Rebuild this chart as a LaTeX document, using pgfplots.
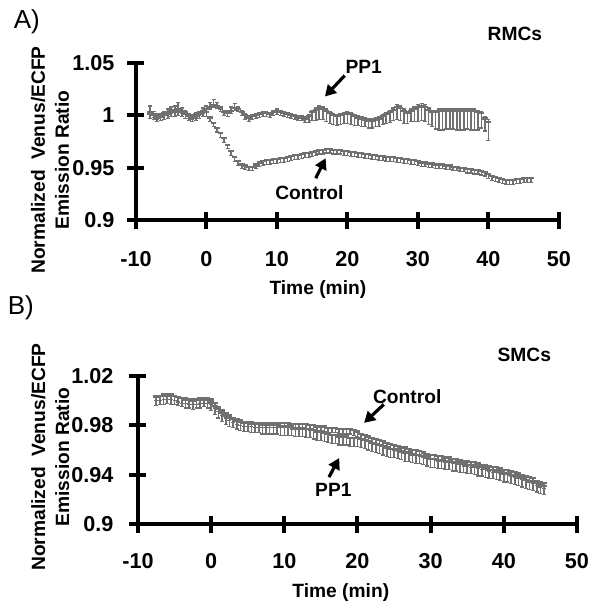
\documentclass[border=0pt]{standalone}
\usepackage{fontspec}
\setmainfont{Liberation Sans}
\usepackage{pgfplots}
\usepackage{pgfplotstable}
\pgfplotsset{compat=1.18}
\usetikzlibrary{arrows.meta}
\definecolor{dgray}{RGB}{112,112,112}

% panel A: PP1 (p, errors pe/pm) and Control (c)
\pgfplotstableread{
t p pe pm c
-8 1.003 .006 .002 1.001
-7.5 1.001 .003 .003 1.000
-7 0.999 .003 .003 0.998
-6.5 1.000 .002 .002 0.999
-6 1.002 .002 .002 1.000
-5.5 1.003 .003 .002 1.001
-5 1.004 .004 .002 1.003
-4.5 1.005 .004 .002 1.003
-4 1.006 .006 .002 1.004
-3.5 1.004 .003 .002 1.003
-3 1.003 .002 .002 1.001
-2.5 1.000 .002 .003 0.999
-2 0.999 .002 .003 0.998
-1.5 1.001 .002 .003 0.999
-1 1.002 .002 .002 1.001
-0.5 1.004 .003 .002 1.003
0 1.006 .003 .002 1.003
0.5 1.008 .004 .002 0.998
1 1.010 .005 .002 0.993
1.5 1.009 .003 .002 0.988
2 1.006 .002 .002 0.983
2.5 1.003 .002 .003 0.978
3 1.002 .003 .003 0.972
3.5 1.004 .004 .002 0.966
4 1.007 .004 .002 0.960
4.5 1.006 .002 .002 0.956
5 1.003 .002 .003 0.953
5.5 1.000 .002 .004 0.952
6 0.998 .002 .004 0.951
6.5 0.999 .002 .003 0.951
7 1.000 .002 .003 0.953
7.5 1.001 .002 .003 0.955
8 1.002 .002 .003 0.956
8.5 1.002 .002 .003 0.957
9 1.001 .002 .003 0.957
9.5 1.003 .002 .003 0.958
10 1.004 .002 .003 0.958
10.5 1.003 .002 .003 0.959
11 1.002 .002 .003 0.959
11.5 1.001 .002 .003 0.960
12 1.000 .002 .003 0.961
12.5 0.999 .002 .003 0.962
13 0.998 .002 .003 0.962
13.5 0.998 .002 .003 0.963
14 0.997 .002 .004 0.964
14.5 0.999 .002 .006 0.964
15 1.003 .002 .008 0.965
15.5 1.005 .002 .010 0.966
16 1.007 .002 .011 0.967
16.5 1.006 .002 .010 0.967
17 1.004 .002 .010 0.968
17.5 1.002 .002 .010 0.968
18 1.000 .002 .009 0.967
18.5 0.999 .002 .009 0.967
19 1.000 .002 .009 0.967
19.5 1.001 .002 .009 0.966
20 1.002 .002 .010 0.966
20.5 1.001 .002 .010 0.965
21 0.999 .002 .009 0.965
21.5 0.998 .002 .008 0.964
22 0.997 .002 .008 0.964
22.5 0.996 .002 .007 0.963
23 0.995 .002 .007 0.963
23.5 0.995 .002 .007 0.962
24 0.996 .002 .007 0.962
24.5 0.997 .002 .008 0.961
25 0.999 .002 .008 0.961
25.5 1.001 .002 .009 0.960
26 1.003 .002 .010 0.960
26.5 1.005 .002 .010 0.960
27 1.008 .002 .012 0.959
27.5 1.007 .002 .012 0.959
28 1.004 .002 .012 0.958
28.5 1.002 .002 .010 0.958
29 1.004 .002 .010 0.957
29.5 1.006 .002 .012 0.957
30 1.008 .002 .014 0.956
30.5 1.009 .002 .014 0.955
31 1.008 .002 .014 0.955
31.5 1.005 .002 .014 0.954
32 1.003 .002 .014 0.954
32.5 1.003 .002 .016 0.953
33 1.004 .002 .018 0.953
33.5 1.004 .002 .018 0.953
34 1.004 .002 .017 0.952
34.5 1.004 .002 .017 0.952
35 1.004 .002 .017 0.951
35.5 1.004 .002 .018 0.951
36 1.004 .002 .018 0.950
36.5 1.004 .002 .018 0.950
37 1.004 .002 .017 0.949
37.5 1.004 .002 .018 0.949
38 1.004 .002 .018 0.948
38.5 1.003 .002 .017 0.948
39 1.002 .002 .014 0.947
39.5 0.997 .002 .012 0.946
40 0.994 .002 .018 0.944
40.5 nan 0 0 0.942
41 nan 0 0 0.941
41.5 nan 0 0 0.940
42 nan 0 0 0.939
42.5 nan 0 0 0.938
43 nan 0 0 0.938
43.5 nan 0 0 0.938
44 nan 0 0 0.939
44.5 nan 0 0 0.939
45 nan 0 0 0.940
45.5 nan 0 0 0.940
46 nan 0 0 0.940
}\dataA

% panel B: Control (c) and PP1 (p)
\pgfplotstableread{
t c p
-7.5 1.004 1.003
-7 1.004 1.004
-6.5 1.005 1.004
-6 1.005 1.005
-5.5 1.005 1.004
-5 1.004 1.004
-4.5 1.003 1.003
-4 1.002 1.002
-3.5 1.002 1.001
-3 1.001 1.001
-2.5 1.001 1.000
-2 1.001 1.001
-1.5 1.002 1.001
-1 1.002 1.002
-0.5 1.002 1.001
0 1.001 0.999
0.5 0.998 0.996
1 0.995 0.993
1.5 0.992 0.990
2 0.990 0.988
2.5 0.988 0.986
3 0.986 0.985
3.5 0.985 0.984
4 0.984 0.983
4.5 0.983 0.982
5 0.983 0.982
5.5 0.983 0.981
6 0.982 0.981
6.5 0.982 0.981
7 0.982 0.980
7.5 0.982 0.980
8 0.982 0.980
8.5 0.982 0.980
9 0.982 0.980
9.5 0.982 0.979
10 0.982 0.979
10.5 0.982 0.979
11 0.981 0.979
11.5 0.981 0.978
12 0.981 0.978
12.5 0.981 0.978
13 0.981 0.977
13.5 0.980 0.977
14 0.980 0.976
14.5 0.979 0.975
15 0.979 0.975
15.5 0.979 0.974
16 0.978 0.973
16.5 0.978 0.972
17 0.978 0.972
17.5 0.977 0.971
18 0.977 0.971
18.5 0.977 0.971
19 0.977 0.970
19.5 0.976 0.970
20 0.975 0.970
20.5 0.973 0.969
21 0.972 0.968
21.5 0.971 0.967
22 0.970 0.966
22.5 0.969 0.965
23 0.968 0.964
23.5 0.967 0.963
24 0.966 0.962
24.5 0.965 0.961
25 0.964 0.961
25.5 0.963 0.960
26 0.962 0.959
26.5 0.962 0.958
27 0.961 0.958
27.5 0.960 0.957
28 0.960 0.956
28.5 0.959 0.956
29 0.958 0.955
29.5 0.957 0.954
30 0.956 0.953
30.5 0.956 0.953
31 0.955 0.952
31.5 0.955 0.952
32 0.954 0.951
32.5 0.954 0.951
33 0.953 0.950
33.5 0.953 0.950
34 0.952 0.949
34.5 0.951 0.949
35 0.951 0.948
35.5 0.950 0.948
36 0.950 0.947
36.5 0.949 0.946
37 0.948 0.946
37.5 0.948 0.945
38 0.947 0.944
38.5 0.946 0.944
39 0.946 0.943
39.5 0.945 0.942
40 0.944 0.941
40.5 0.944 0.941
41 0.943 0.940
41.5 0.942 0.939
42 0.941 0.938
42.5 0.940 0.937
43 0.939 0.936
43.5 0.938 0.935
44 0.937 0.934
44.5 0.935 0.933
45 0.934 0.932
45.5 0.933 0.931
}\dataB

\tikzset{
  note/.style={font=\bfseries\fontsize{9.6}{12}\selectfont},
  arr/.style={line width=1.6pt, -{Triangle[length=5.5pt,width=6pt]}},
}
\pgfplotsset{
  panel/.style={
    scale only axis, axis lines*=left,
    axis line style={line width=2pt},
    xmin=-10, xmax=50, xtick={-10,0,...,50},
    xticklabels={-10,0,10,20,30,40,50},
    major tick length=8.5pt, tick align=center,
    tick style={line width=2pt, black},
    ticklabel style={font=\bfseries\fontsize{10.8}{12}\selectfont},
    xticklabel style={yshift=-8pt},
    yticklabel style={xshift=-3pt},
    label style={font=\bfseries\fontsize{9.6}{12}\selectfont},
    ylabel style={align=center, anchor=center},
    xlabel style={anchor=center},
    clip=false,
  },
  ser/.style={only marks, mark=-, mark size=1.4pt, color=dgray,
    mark options={line width=1.1pt},
    error bars/error bar style={dgray, line width=0.8pt},
    error bars/error mark options={rotate=90, dgray, mark size=1pt, line width=0.6pt}},
}

\begin{document}
\begin{tikzpicture}
\useasboundingbox (0,0) rectangle (300pt,-306pt);

\begin{axis}[panel, at={(68pt,-110pt)}, anchor=south west,
  width=211.5pt, height=78.5pt,
  ymin=0.9, ymax=1.05, ytick={0.9,0.95,1,1.05},
  yticklabels={0.9,0.95,1,1.05},
  ylabel={Normalized\ \ Venus/ECFP\\Emission Ratio},
  ylabel style={at={(axis description cs:-0.203,0.382)}},
  xlabel={Time (min)},
  xlabel style={at={(axis description cs:0.430,-0.446)}},
]
\addplot+[ser, error bars/.cd, y dir=both, y explicit]
  table[x=t, y=p, y error plus=pe, y error minus=pm] {\dataA};
\addplot+[ser, error bars/.cd, y dir=minus, y fixed=0.004]
  table[x=t, y=c] {\dataA};
\node[note] at (axis cs:22.3,1.0459) {PP1};
\draw[arr] (axis cs:19.6,1.038) -- (axis cs:16.8,1.018);
\node[note] at (axis cs:14.6,0.926) {Control};
\draw[arr] (axis cs:15.5,0.940) -- (axis cs:16.9,0.959);
\node[note] at (axis cs:43.75,1.078) {RMCs};
\node[font=\fontsize{13}{14}\selectfont] at (axis description cs:-0.258,1.261) {A)};
\end{axis}

\begin{axis}[panel, at={(69pt,-262pt)}, anchor=south west,
  width=219.5pt, height=74pt,
  ymin=0.9, ymax=1.02, ytick={0.9,0.94,0.98,1.02},
  yticklabels={0.9,0.94,0.98,1.02},
  yticklabel style={xshift=-1.5pt},
  xticklabel style={yshift=1pt},
  ylabel={Normalized\ \ Venus/ECFP\\Emission Ratio},
  ylabel style={at={(axis description cs:-0.200,0.453)}},
  xlabel={Time (min)},
  xlabel style={at={(axis description cs:0.462,-0.466)}},
]
\addplot+[ser, error bars/.cd, y dir=minus, y fixed=0.007]
  table[x=t, y=p] {\dataB};
\addplot+[ser, error bars/.cd, y dir=minus, y fixed=0.004]
  table[x=t, y=c] {\dataB};
\node[note] at (axis cs:26.8,1.003) {Control};
\draw[arr] (axis cs:23.6,0.997) -- (axis cs:20.9,0.982);
\node[note] at (axis cs:16.7,0.9276) {PP1};
\draw[arr] (axis cs:16.1,0.938) -- (axis cs:17.5,0.9535);
\node[note] at (axis cs:42.8,1.037) {SMCs};
\node[font=\fontsize{13}{14}\selectfont] at (axis description cs:-0.267,1.459) {B)};
\end{axis}
\end{tikzpicture}
\end{document}
